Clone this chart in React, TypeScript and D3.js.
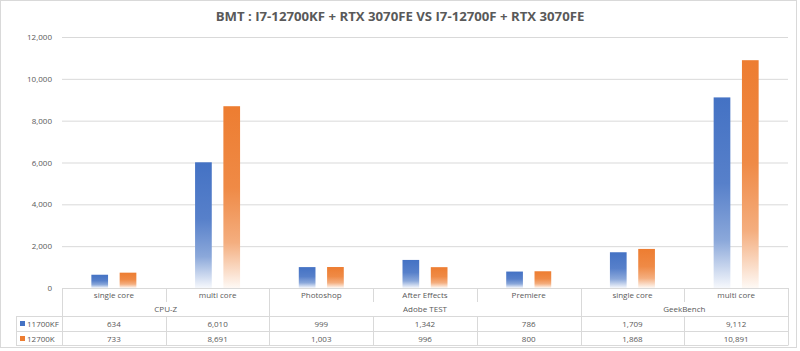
import React from 'react';
import * as d3 from 'd3';

const categories = ['single core', 'multi core', 'Photoshop', 'After Effects', 'Premiere', 'single core', 'multi core'];
const groups = [
  { name: 'CPU-Z', from: 0, to: 1 },
  { name: 'Adobe TEST', from: 2, to: 4 },
  { name: 'GeekBench', from: 5, to: 6 },
];
const seriesNames = ['11700KF', '12700K'];
const values11700KF = [634, 6010, 999, 1342, 786, 1709, 9112];
const values12700K = [733, 8691, 1003, 996, 800, 1868, 10891];
const yTicks = [0, 2000, 4000, 6000, 8000, 10000, 12000];
const colors = ['#4472C4', '#ED7D31'];

const W = 800;
const H = 351;
const left = 62;
const right = 788;
const top = 37;
const bottom = 288;
const font = "'Open Sans', sans-serif";
const textColor = '#595959';
const lineColor = '#d9d9d9';
const fs = 8;

export default function App() {
  const x = d3.scaleBand<number>().domain(d3.range(categories.length)).range([left, right]);
  const bw = x.bandwidth();
  const x1 = d3
    .scaleBand<string>()
    .domain(seriesNames)
    .range([bw / 2 - 22.5, bw / 2 + 22.5])
    .paddingInner(0.41);
  const y = d3.scaleLinear().domain([0, 12000]).range([bottom, top]);
  const fmt = d3.format(',');
  const series = [values11700KF, values12700K];

  // table rows
  const rowCat = 295;
  const rowGroup = 309;
  const line1 = 316;
  const row1 = 323.5;
  const line2 = 331;
  const row2 = 338.5;
  const tableBottom = 345.5;
  const legendLeft = 16;

  return (
    <div>
      <style>{'body{margin:0}'}</style>
      <svg width={W} height={H} style={{ display: 'block', fontFamily: font }}>
        <defs>
          {colors.map((c, i) => (
            <linearGradient key={i} id={`grad${i}`} x1="0" y1="0" x2="0" y2="1">
              <stop offset="0" stopColor={c} />
              <stop offset="0.45" stopColor={d3.interpolateRgb(c, '#fff')(0.1)} />
              <stop offset="0.75" stopColor={d3.interpolateRgb(c, '#fff')(0.38)} />
              <stop offset="1" stopColor={d3.interpolateRgb(c, '#fff')(0.95)} />
            </linearGradient>
          ))}
        </defs>
        <rect x={0.5} y={0.5} width={796} height={347} fill="#fff" stroke={lineColor} />

        <text x={400} y={21} textAnchor="middle" fontSize={13.2} fontWeight="bold" fill={textColor}>
          BMT : I7-12700KF + RTX 3070FE VS I7-12700F + RTX 3070FE
        </text>

        {yTicks.map(t => (
          <g key={t}>
            {t > 0 && <line x1={left} x2={right} y1={y(t) + 0.5} y2={y(t) + 0.5} stroke={lineColor} />}
            <text x={52} y={y(t) + 3} textAnchor="end" fontSize={fs} fill={textColor}>
              {fmt(t)}
            </text>
          </g>
        ))}

        {series.map((vals, si) =>
          vals.map((v, i) => (
            <rect
              key={`${si}-${i}`}
              x={(x(i) as number) + (x1(seriesNames[si]) as number)}
              y={y(v)}
              width={x1.bandwidth()}
              height={y(0) - y(v)}
              fill={`url(#grad${si})`}
            />
          ))
        )}

        {/* data table */}
        <g stroke={lineColor} strokeWidth={1}>
          <line x1={left} x2={right} y1={bottom + 0.5} y2={bottom + 0.5} />
          <line x1={legendLeft} x2={right} y1={line1 + 0.5} y2={line1 + 0.5} />
          <line x1={legendLeft} x2={right} y1={line2 + 0.5} y2={line2 + 0.5} />
          <line x1={legendLeft} x2={right} y1={tableBottom} y2={tableBottom} />
          <line x1={legendLeft + 0.5} x2={legendLeft + 0.5} y1={line1} y2={tableBottom} />
          <line x1={left + 0.5} x2={left + 0.5} y1={bottom} y2={tableBottom} />
          <line x1={right + 0.5} x2={right + 0.5} y1={bottom} y2={tableBottom} />
          {categories.map((_, i) => {
            if (i === 0) return null;
            const xx = Math.round(x(i) as number) + 0.5;
            const isGroupEdge = groups.some(g => g.from === i);
            return <line key={i} x1={xx} x2={xx} y1={bottom} y2={isGroupEdge ? tableBottom : line1 - 14} />;
          })}
          {categories.map((_, i) => {
            if (i === 0) return null;
            const xx = Math.round(x(i) as number) + 0.5;
            return <line key={`r${i}`} x1={xx} x2={xx} y1={line1} y2={tableBottom} />;
          })}
        </g>

        {categories.map((c, i) => (
          <text key={i} x={(x(i) as number) + bw / 2} y={rowCat + 3} textAnchor="middle" fontSize={fs} fill={textColor}>
            {c}
          </text>
        ))}
        {groups.map(g => (
          <text
            key={g.name}
            x={((x(g.from) as number) + (x(g.to) as number) + bw) / 2}
            y={rowGroup + 3}
            textAnchor="middle"
            fontSize={fs}
            fill={textColor}
          >
            {g.name}
          </text>
        ))}
        {series.map((vals, si) => {
          const ry = si === 0 ? row1 : row2;
          return (
            <g key={si}>
              <rect x={20} y={ry - 2.5} width={5} height={5} fill={colors[si]} />
              <text x={27} y={ry + 3} fontSize={fs} fill={textColor}>
                {seriesNames[si]}
              </text>
              {vals.map((v, i) => (
                <text key={i} x={(x(i) as number) + bw / 2} y={ry + 3} textAnchor="middle" fontSize={fs} fill={textColor}>
                  {fmt(v)}
                </text>
              ))}
            </g>
          );
        })}
      </svg>
    </div>
  );
}
